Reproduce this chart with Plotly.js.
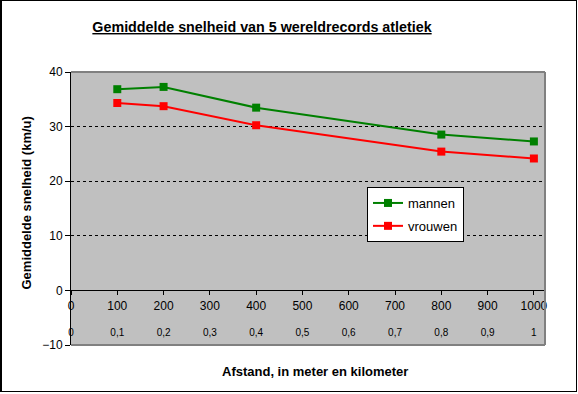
<!DOCTYPE html>
<html>
<head>
<meta charset="utf-8">
<script src="https://cdn.plot.ly/plotly-3.0.1.min.js"></script>
<style>
html,body{margin:0;padding:0;background:#fff;}
#wrap{position:relative;width:578px;height:394px;}
#chart{width:578px;height:394px;}
#frame{position:absolute;left:0;top:0;width:577px;height:392px;box-sizing:border-box;border:1px solid #000;border-left-width:2px;pointer-events:none;}
</style>
</head>
<body>
<div id="wrap"><div id="chart"></div><div id="frame"></div></div>
<script>
// Data
const distances = [100, 200, 400, 800, 1000];
const mannen = [36.85, 37.27, 33.47, 28.54, 27.28];
const vrouwen = [34.32, 33.74, 30.25, 25.42, 24.16];
const tickMeters = [0, 100, 200, 300, 400, 500, 600, 700, 800, 900, 1000];
const tickMeterLabels = ['0','100','200','300','400','500','600','700','800','900','1000'];
const tickKmLabels = ['0','0,1','0,2','0,3','0,4','0,5','0,6','0,7','0,8','0,9','1'];

const font = 'Arial, "Liberation Sans", sans-serif';

const traces = [
  {x: distances, y: mannen, name: 'mannen', type: 'scatter', mode: 'lines+markers',
   legendgroup: 'a',
   line: {color: '#008000', width: 2}, marker: {color: '#008000', symbol: 'square', size: 8}},
  {x: distances, y: vrouwen, name: 'vrouwen', type: 'scatter', mode: 'lines+markers',
   legendgroup: 'b',
   line: {color: '#ff0000', width: 2}, marker: {color: '#ff0000', symbol: 'square', size: 8}},
  {x: [], y: [], xaxis: 'x2', showlegend: false, hoverinfo: 'skip'}
];

const zeroPos = 10 / 50;

const layout = {
  width: 578, height: 394,
  margin: {l: 71, r: 33, t: 72, b: 49},
  paper_bgcolor: '#ffffff',
  plot_bgcolor: '#c0c0c0',
  font: {family: font, color: '#000', size: 12},
  showlegend: true,
  title: {
    text: '<u><b>Gemiddelde snelheid van 5 wereldrecords atletiek</b></u>',
    font: {family: font, size: 14.3, color: '#000'},
    xref: 'paper', x: 0.403, xanchor: 'center',
    yref: 'container', y: 1 - 27/394, yanchor: 'middle'
  },
  xaxis: {
    range: [0, 1024], anchor: 'free', position: zeroPos,
    tickvals: tickMeters, ticktext: tickMeterLabels,
    ticks: 'outside', ticklen: 4, tickcolor: '#000',
    showline: true, linecolor: '#000', linewidth: 1,
    showgrid: false, zeroline: false,
    tickfont: {family: font, size: 12, color: '#000'}
  },
  xaxis2: {
    range: [0, 1024], overlaying: 'x', anchor: 'free', position: 0.073,
    tickvals: tickMeters, ticktext: tickKmLabels,
    ticks: '', showline: false, showgrid: false, zeroline: false,
    tickfont: {family: font, size: 10, color: '#000'}
  },
  yaxis: {
    range: [-10, 40], tickvals: [-10, 0, 10, 20, 30, 40],
    ticks: 'outside', ticklen: 5, tickcolor: '#000',
    showline: true, linecolor: '#000', linewidth: 1,
    showgrid: true, gridcolor: '#000', gridwidth: 1, griddash: 'dot',
    zeroline: false,
    tickfont: {family: font, size: 12, color: '#000'}
  },
  legend: {
    x: (367-71)/474, y: (345-187)/273, xanchor: 'left', yanchor: 'top',
    bgcolor: '#ffffff', bordercolor: '#000', borderwidth: 1,
    font: {family: font, size: 13, color: '#000'},
    traceorder: 'grouped', tracegroupgap: 3, itemwidth: 30
  },
  shapes: [
    {type: 'line', xref: 'paper', yref: 'paper', x0: 0, x1: 1, y0: 1, y1: 1, line: {color: '#808080', width: 2}, layer: 'above'},
    {type: 'line', xref: 'paper', yref: 'paper', x0: 1, x1: 1, y0: 0, y1: 1, line: {color: '#808080', width: 2}, layer: 'above'},
    {type: 'line', xref: 'paper', yref: 'paper', x0: 0, x1: 1, y0: 0, y1: 0, line: {color: '#808080', width: 2}, layer: 'above'}
  ],
  annotations: [
    {text: '<b>Gemiddelde snelheid (km/u)</b>', xref: 'paper', yref: 'paper',
     x: (26-71)/474, y: (345-203.5)/273, textangle: -90, showarrow: false,
     xanchor: 'center', yanchor: 'middle', font: {family: font, size: 13, color: '#000'}},
    {text: '<b>Afstand, in meter en kilometer</b>', xref: 'paper', yref: 'paper',
     x: (314.7-71)/474, y: (345-371)/273, showarrow: false,
     xanchor: 'center', yanchor: 'middle', font: {family: font, size: 13, color: '#000'}}
  ]
};

Plotly.newPlot('chart', traces, layout, {displayModeBar: false, staticPlot: true});
</script>
</body>
</html>
